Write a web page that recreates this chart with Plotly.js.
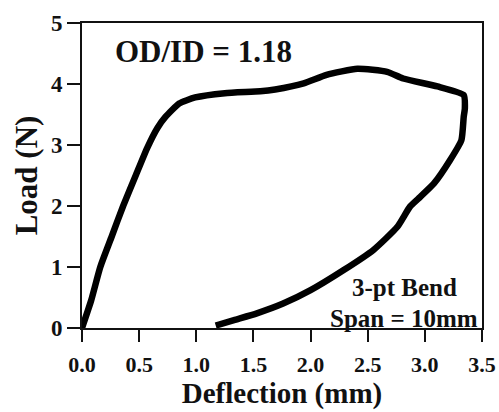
<!DOCTYPE html>
<html>
<head>
<meta charset="utf-8">
<script src="https://cdn.plot.ly/plotly-3.0.1.min.js"></script>
<style>html,body{margin:0;padding:0;background:#fff;}</style>
</head>
<body>
<div id="chart"></div>
<script>
// Load–deflection loop (loading then unloading)
const deflection = [0.00, 0.08, 0.16, 0.26, 0.36, 0.47, 0.57, 0.66, 0.73, 0.85, 0.99, 1.25, 1.56, 1.69, 1.94, 2.14, 2.41, 2.67, 2.81, 3.11, 3.34, 3.35, 3.34, 3.32, 3.22, 3.08, 2.96, 2.87, 2.76, 2.55, 2.29, 2.00, 1.76, 1.53, 1.33, 1.17];
const load       = [0.00, 0.45, 1.00, 1.50, 2.00, 2.50, 2.95, 3.28, 3.46, 3.68, 3.78, 3.85, 3.88, 3.91, 4.01, 4.15, 4.25, 4.20, 4.09, 3.96, 3.82, 3.60, 3.46, 3.08, 2.75, 2.37, 2.15, 1.99, 1.66, 1.28, 0.95, 0.62, 0.40, 0.24, 0.13, 0.04];
const xTicks = [0, 0.5, 1, 1.5, 2, 2.5, 3, 3.5];
const xTickText = ["0.0", "0.5", "1.0", "1.5", "2.0", "2.5", "3.0", "3.5"];
const yTicks = [0, 1, 2, 3, 4, 5];

const FAM = "Liberation Serif";
function f(size) { return {family: FAM, size: size, weight: "bold", color: "#111"}; }

const trace = {
  x: deflection, y: load, type: "scatter", mode: "lines",
  line: {color: "#000", width: 6.5, shape: "spline", smoothing: 0.5},
  hoverinfo: "skip"
};

const layout = {
  width: 499, height: 412,
  margin: {l: 82, r: 17, t: 23, b: 84},
  paper_bgcolor: "#fff", plot_bgcolor: "#fff",
  showlegend: false,
  xaxis: {
    range: [0, 3.5], tickvals: xTicks, ticktext: xTickText,
    showgrid: false, zeroline: false,
    showline: true, linecolor: "#111", linewidth: 2, mirror: true,
    ticks: "outside", ticklen: 12, tickwidth: 2, tickcolor: "#111",
    tickfont: f(22), ticklabelstandoff: 4,
    title: {text: "Deflection (mm)", font: f(29), standoff: 5}
  },
  yaxis: {
    range: [0, 5], tickvals: yTicks,
    showgrid: false, zeroline: false,
    showline: true, linecolor: "#111", linewidth: 2, mirror: true,
    ticks: "outside", ticklen: 13, tickwidth: 2, tickcolor: "#111",
    tickfont: f(23),
    title: {text: "Load (N)", font: f(31), standoff: 4}
  },
  annotations: [
    {x: 0.27, y: 4.54, xref: "x", yref: "y", xanchor: "left", yanchor: "middle", showarrow: false,
     text: "OD/ID = 1.18", font: f(31)},
    {x: 2.82, y: 0.67, xref: "x", yref: "y", xanchor: "center", yanchor: "middle", showarrow: false,
     text: "3-pt Bend", font: f(25)},
    {x: 2.82, y: 0.16, xref: "x", yref: "y", xanchor: "center", yanchor: "middle", showarrow: false,
     text: "Span = 10mm", font: f(25)}
  ]
};

Plotly.newPlot("chart", [trace], layout, {displayModeBar: false});
</script>
</body>
</html>
